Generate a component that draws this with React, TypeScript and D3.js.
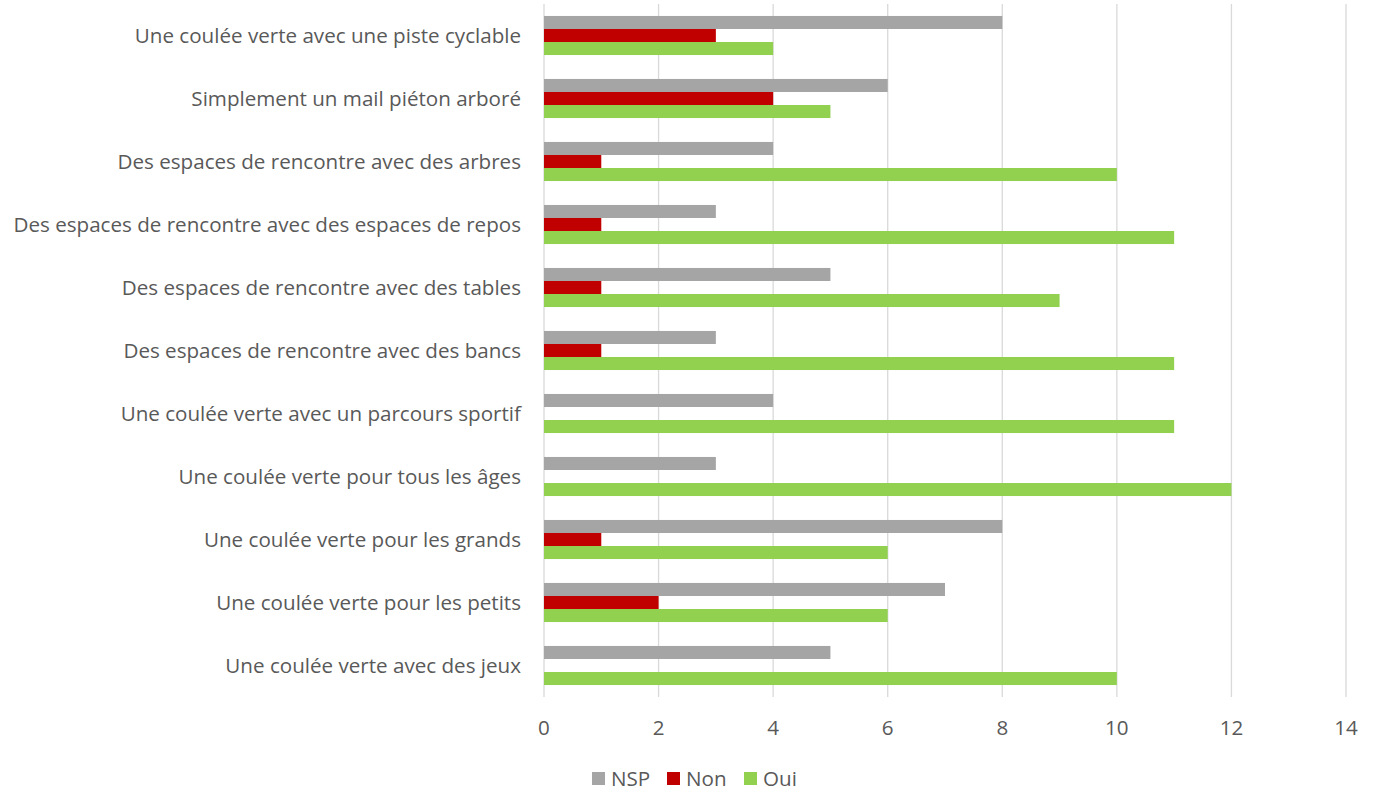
import React from "react";
import * as d3 from "d3";

const categories = [
  "Une coulée verte avec une piste cyclable",
  "Simplement un mail piéton arboré",
  "Des espaces de rencontre avec des arbres",
  "Des espaces de rencontre avec des espaces de repos",
  "Des espaces de rencontre avec des tables",
  "Des espaces de rencontre avec des bancs",
  "Une coulée verte avec un parcours sportif",
  "Une coulée verte pour tous les âges",
  "Une coulée verte pour les grands",
  "Une coulée verte pour les petits",
  "Une coulée verte avec des jeux",
];
const nsp = [8, 6, 4, 3, 5, 3, 4, 3, 8, 7, 5];
const non = [3, 4, 1, 1, 1, 1, 0, 0, 1, 2, 0];
const oui = [4, 5, 10, 11, 9, 11, 11, 12, 6, 6, 10];
const seriesNames = ["NSP", "Non", "Oui"];
const seriesColors = ["#A5A5A5", "#C00000", "#92D050"];
const xTicks = [0, 2, 4, 6, 8, 10, 12, 14];

export default function App() {
  const W = 1376, H = 793;
  const left = 544, right = 1346, top = 4, bottom = 697;
  const x = d3.scaleLinear().domain([0, 14]).range([left, right]);
  const y = d3.scaleBand<string>().domain(categories).range([top, bottom]).paddingInner(0.38).paddingOuter(0.19);
  const sub = d3.scaleBand<string>().domain(seriesNames).range([0, y.bandwidth()]);
  const values = [nsp, non, oui];
  const font = "'Open Sans', 'Segoe UI', sans-serif";
  const fs = 20.6;
  const legendX = [592, 667, 744];
  return (
    <svg width={W} height={H} style={{ position: "absolute", left: 0, top: 0, background: "#fff" }}>
      {xTicks.map((t) => (
        <line key={"g" + t} x1={x(t)} x2={x(t)} y1={top} y2={bottom} stroke="#D9D9D9" strokeWidth={1.3} />
      ))}
      {categories.map((c, i) => (
        <g key={c}>
          {seriesNames.map((s, k) =>
            values[k][i] > 0 ? (
              <rect key={s} x={x(0)} y={(y(c) as number) + (sub(s) as number)} width={x(values[k][i]) - x(0)} height={sub.bandwidth()} fill={seriesColors[k]} />
            ) : null
          )}
          <text x={521} y={(y(c) as number) + y.bandwidth() / 2} dy="0.35em" textAnchor="end" fontFamily={font} fontSize={fs} textLength={undefined} fill="#595959">{c}</text>
        </g>
      ))}
      {xTicks.map((t) => (
        <text key={"t" + t} x={x(t)} y={728} dy="0.35em" textAnchor="middle" fontFamily={font} fontSize={fs} fill="#595959">{t}</text>
      ))}
      {seriesNames.map((s, k) => (
        <g key={"l" + s}>
          <rect x={legendX[k]} y={772} width={13} height={13} fill={seriesColors[k]} />
          <text x={legendX[k] + 19} y={779} dy="0.35em" fontFamily={font} fontSize={fs} fill="#595959">{s}</text>
        </g>
      ))}
    </svg>
  );
}
